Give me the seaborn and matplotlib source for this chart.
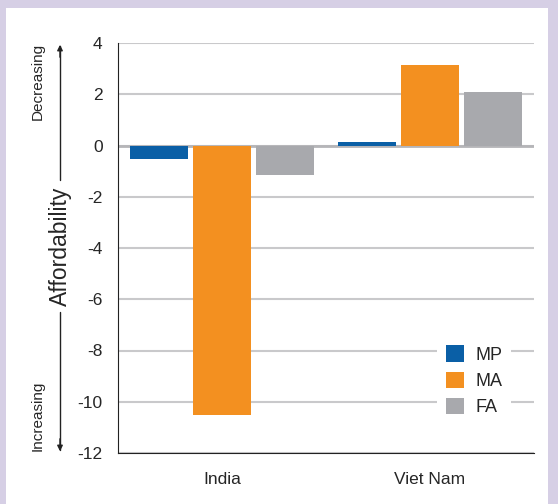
import numpy as np
import pandas as pd
import matplotlib.pyplot as plt
import seaborn as sns
from matplotlib.patches import Rectangle

# Data
countries = ["India", "Viet Nam"]
series = ["MP", "MA", "FA"]
india_values = [-0.52, -10.5, -1.14]
vietnam_values = [0.14, 3.14, 2.09]
colors = ["#0a5fa6", "#f39020", "#a8a9ad"]
y_ticks = [4, 2, 0, -2, -4, -6, -8, -10, -12]

df = pd.DataFrame({
    "country": [countries[0]] * 3 + [countries[1]] * 3,
    "series": series * 2,
    "value": india_values + vietnam_values,
})

sns.set_style("white")
plt.rcParams["font.family"] = ["Liberation Sans", "DejaVu Sans"]

fig = plt.figure(figsize=(5.58, 5.04), dpi=100)
fig.patch.set_facecolor("#d6cfe5")
# white panel
fig.add_artist(Rectangle((6 / 558, 0), 542 / 558, 1 - 8 / 504,
                         transform=fig.transFigure, facecolor="white",
                         edgecolor="none", zorder=0))

ax = fig.add_axes([118 / 558, 1 - 453 / 504, 416 / 558, 410 / 504])
ax.set_facecolor("none")

sns.barplot(data=df, x="country", y="value", hue="series",
            palette=colors, width=0.91, gap=0.08, ax=ax, zorder=3,
            saturation=1, edgecolor="none")

ax.set_ylim(-12, 4)
ax.set_xlim(-0.5, 1.5)
ax.set_yticks(y_ticks)
ax.set_yticklabels([str(t) for t in y_ticks], fontsize=12.5)
ax.yaxis.grid(True, color="#c9c9cb", linewidth=1.5, zorder=0)
ax.axhline(0, color="#b5b5b8", linewidth=2, zorder=2)
ax.set_axisbelow(True)

for s in ["top", "right"]:
    ax.spines[s].set_visible(False)
ax.spines["left"].set_color("#222222")
ax.spines["bottom"].set_color("#222222")

ax.tick_params(axis="y", direction="out", length=8, width=1, color="#222222", pad=3)
ax.set_xticks([0, 1])
ax.set_xticklabels(countries, fontsize=12.5)
ax.tick_params(axis="x", length=0, pad=14)
ax.set_xticks([-0.5, 0.5, 1.5], minor=True)
ax.tick_params(axis="x", which="minor", direction="in", length=7, width=1, color="#222222")
ax.set_xlabel("")
ax.set_ylabel("")

leg = ax.legend(loc="lower right", bbox_to_anchor=(0.967, 0.045), frameon=True,
                fontsize=13, handlelength=1.0, handleheight=1.0,
                handletextpad=0.6, labelspacing=0.45, borderpad=0.5)
leg.get_frame().set_facecolor("white")
leg.get_frame().set_edgecolor("none")
leg.get_frame().set_alpha(1)
leg.set_zorder(5)

# axis label and arrows
fig.text(60 / 558, 1 - 246 / 504, "Affordability", rotation=90, fontsize=16.5,
         ha="center", va="center")
fig.text(38 / 558, 1 - 81 / 504, "Decreasing", rotation=90, fontsize=11,
         ha="center", va="center")
fig.text(38 / 558, 1 - 416 / 504, "Increasing", rotation=90, fontsize=11,
         ha="center", va="center")
fig.add_artist(plt.Line2D([60 / 558] * 2, [1 - 180 / 504, 1 - 46 / 504],
                          color="#222222", linewidth=1, transform=fig.transFigure))
fig.add_artist(plt.Line2D([60 / 558] * 2, [1 - 312 / 504, 1 - 450 / 504],
                          color="#222222", linewidth=1, transform=fig.transFigure))
ax.annotate("", xy=(60 / 558, 1 - 42 / 504), xytext=(60 / 558, 1 - 60 / 504),
            xycoords="figure fraction",
            arrowprops=dict(arrowstyle="-|>", color="#222222", lw=1, mutation_scale=8))
ax.annotate("", xy=(60 / 558, 1 - 454 / 504), xytext=(60 / 558, 1 - 436 / 504),
            xycoords="figure fraction",
            arrowprops=dict(arrowstyle="-|>", color="#222222", lw=1, mutation_scale=8))

fig.savefig("out.png", dpi=100, facecolor=fig.get_facecolor())
